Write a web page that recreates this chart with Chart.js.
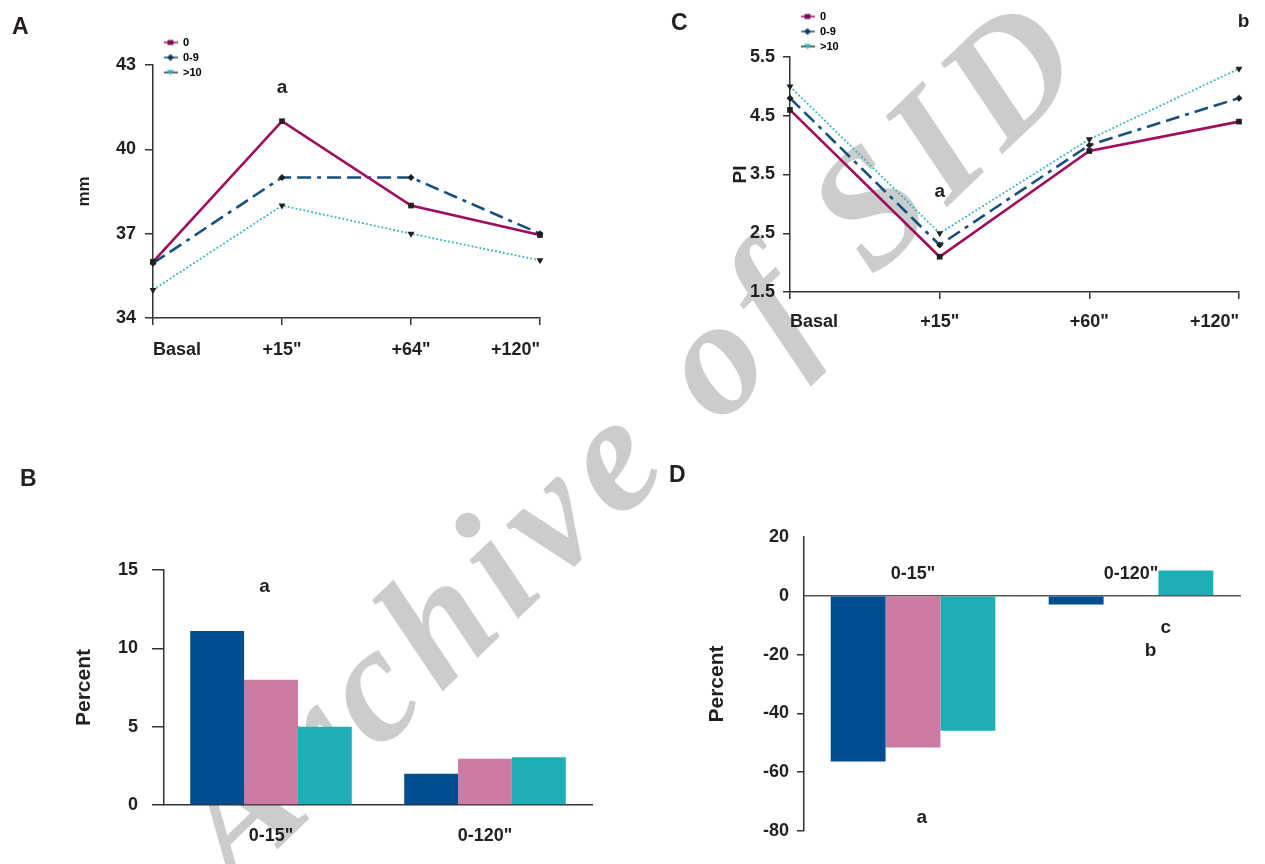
<!DOCTYPE html>
<html>
<head>
<meta charset="utf-8">
<script src="https://cdn.jsdelivr.net/npm/chart.js@4.4.1/dist/chart.umd.min.js"></script>
<style>
  html, body { margin: 0; padding: 0; background: #fff; }
  #lienzo { position: relative; width: 1265px; height: 864px; overflow: hidden; }
  #lienzo canvas { position: absolute; z-index: 2; }
  .letra { position: absolute; z-index: 3; font: bold 23px "Liberation Sans", Arial, sans-serif; line-height: 1; color: #231f20; }
  #marca {
    position: absolute; z-index: 1; left: 140px; top: 790px;
    font: italic bold 165px "Liberation Serif", "DejaVu Serif", serif; line-height: 1;
    letter-spacing: 12px;
    color: #cbcccd; white-space: nowrap;
    transform: rotate(-43.8deg); transform-origin: 0 0;
  }
</style>
</head>
<body>
<div id="lienzo">
  <div id="marca">Archive of SID</div>
  <div class="letra" style="left:12px;top:15px">A</div>
  <div class="letra" style="left:20px;top:467px">B</div>
  <div class="letra" style="left:671px;top:11px">C</div>
  <div class="letra" style="left:669px;top:463px">D</div>
  <canvas id="graficaA" width="600" height="390" style="left:0;top:0"></canvas>
  <canvas id="graficaC" width="625" height="390" style="left:640px;top:0"></canvas>
  <canvas id="graficaB" width="632" height="424" style="left:0;top:440px"></canvas>
  <canvas id="graficaD" width="633" height="424" style="left:632px;top:440px"></canvas>
</div>
<script>
// ----------------------------------------------------------
// DATOS
// ----------------------------------------------------------
const grupos = ['0', '0-9', '>10'];

// Panel A: mm
const tiemposA = ['Basal', '+15"', '+64"', '+120"'];
const mmGrupo0  = [36.0, 41.0, 38.0, 36.95];
const mmGrupo09 = [35.95, 39.0, 39.0, 37.0];
const mmGrupo10 = [35.0, 38.0, 37.0, 36.05];
const ticksA = [34, 37, 40, 43];
const letrasA = [{ texto: 'a', x: 1, y: 42.2 }];

// Panel C: PI
const tiemposC = ['Basal', '+15"', '+60"', '+120"'];
const piGrupo0  = [4.6, 2.1, 3.9, 4.4];
const piGrupo09 = [4.8, 2.3, 4.0, 4.8];
const piGrupo10 = [5.0, 2.5, 4.1, 5.3];
const ticksC = [1.5, 2.5, 3.5, 4.5, 5.5];
const letrasC = [{ texto: 'a', x: 1, y: 3.2 }, { texto: 'b', x: 3.03, y: 6.1 }];

// Panel B: Percent
const intervalosB = ['0-15"', '0-120"'];
const pctB0  = [11.1, 2.0];
const pctB09 = [8.0, 2.95];
const pctB10 = [5.0, 3.05];
const ticksB = [0, 5, 10, 15];
const letrasB = [{ texto: 'a', x: -0.03, y: 13.9 }];

// Panel D: Percent (cambio)
const intervalosD = ['0-15"', '0-120"'];
const pctD0  = [-56.4, -3.0];
const pctD09 = [-51.6, 0];
const pctD10 = [-45.9, 8.6];
const ticksD = [-80, -60, -40, -20, 0, 20];
const letrasD = [
  { texto: 'a', x: 0.04, y: -75.6 },
  { texto: 'b', x: 1.09, y: -18.7 },
  { texto: 'c', x: 1.16, y: -10.9 }
];

// ----------------------------------------------------------
// ESTILO
// ----------------------------------------------------------
const colorMagenta = '#a00a5f';
const colorMarino  = '#14507e';
const colorCian    = '#2cb4c1';
const colorMarca   = '#231f20';
const coloresBarra = ['#004d92', '#cd7aa4', '#1eaeb6'];
const tinta = '#231f20';
const ejes  = '#333333';
const fuente = '"Liberation Sans", Arial, sans-serif';

Chart.defaults.font.family = fuente;
Chart.defaults.font.weight = 'bold';
Chart.defaults.color = tinta;

// icono pequeño de leyenda: trazo + marcador
function icono(colorLinea, estilo, colorPunto) {
  const c = document.createElement('canvas');
  c.width = 14; c.height = 8;
  const g = c.getContext('2d');
  g.strokeStyle = colorLinea; g.lineWidth = 1.5;
  g.beginPath(); g.moveTo(0, 4); g.lineTo(14, 4); g.stroke();
  g.fillStyle = colorPunto;
  g.beginPath();
  if (estilo === 'rect') {
    g.rect(4, 1.5, 6, 5);
  } else if (estilo === 'rectRot') {
    g.moveTo(7, 0.5); g.lineTo(10.5, 4); g.lineTo(7, 7.5); g.lineTo(3.5, 4);
  } else {
    g.moveTo(3.5, 1.5); g.lineTo(10.5, 1.5); g.lineTo(7, 7);
  }
  g.closePath(); g.fill();
  return c;
}
const iconos = [
  icono(colorMagenta, 'rect', '#7d1153'),
  icono(colorMarino, 'rectRot', '#123a5c'),
  icono('#333', 'triangle', colorCian)
];

// coloca la leyenda en un punto fijo del lienzo
const colocarLeyenda = {
  id: 'colocarLeyenda',
  afterLayout(chart, args, opts) {
    const ley = chart.legend;
    if (!ley || opts.x === undefined) return;
    ley.left = opts.x; ley.top = opts.y;
    ley.right = opts.x + ley.width; ley.bottom = opts.y + 200;
  }
};

// letras de significación (a, b, c) en coordenadas de datos
const letras = {
  id: 'letras',
  afterDraw(chart, args, opts) {
    const { ctx, scales: { x, y } } = chart;
    ctx.save();
    ctx.font = 'bold 19px ' + fuente;
    ctx.fillStyle = tinta;
    ctx.textAlign = 'center';
    ctx.textBaseline = 'middle';
    (opts.items || []).forEach(it => {
      ctx.fillText(it.texto, x.getPixelForValue(it.x), y.getPixelForValue(it.y));
    });
    ctx.restore();
  }
};

function ticksFijos(lista) {
  return scale => { scale.ticks = lista.map(v => ({ value: v })); };
}

function seriesLinea(d0, d09, d10) {
  return [
    { label: grupos[0], data: d0, borderColor: colorMagenta, borderWidth: 2.6,
      pointStyle: 'rect', pointRadius: 4, pointBackgroundColor: colorMarca, pointBorderWidth: 0, clip: false },
    { label: grupos[1], data: d09, borderColor: colorMarino, borderWidth: 2.6,
      borderDash: [14, 6, 14, 6, 4, 6],
      pointStyle: 'rectRot', pointRadius: 3.5, pointBackgroundColor: colorMarca, pointBorderWidth: 0, clip: false },
    { label: grupos[2], data: d10, borderColor: colorCian, borderWidth: 1.8,
      borderDash: [1.8, 2.2],
      pointStyle: 'triangle', rotation: 180, pointRadius: 4, pointBackgroundColor: colorMarca, pointBorderWidth: 0, clip: false }
  ];
}

function leyenda() {
  return {
    display: true,
    position: 'chartArea',
    align: 'start',
    labels: {
      usePointStyle: true,
      pointStyleWidth: 14,
      padding: 4,
      color: tinta,
      font: { size: 11, weight: 'bold' },
      generateLabels: chart => chart.data.datasets.map((ds, i) => ({
        text: ds.label, pointStyle: iconos[i], fillStyle: 'transparent',
        strokeStyle: 'transparent', lineWidth: 0, hidden: false, datasetIndex: i
      }))
    }
  };
}

function opcionesLinea(cfg) {
  return {
    responsive: false,
    animation: false,
    layout: { padding: cfg.padding },
    plugins: {
      legend: leyenda(),
      tooltip: { enabled: false },
      colocarLeyenda: cfg.leyenda,
      letras: { items: cfg.letras }
    },
    scales: {
      x: {
        offset: false,
        border: { display: true, color: ejes, width: 1.5 },
        grid: { display: true, drawOnChartArea: false, drawTicks: true, tickLength: 7, color: ejes, lineWidth: 1.5 },
        ticks: { align: 'inner', maxRotation: 0, autoSkip: false, padding: cfg.padX, font: { size: 18 } },
        afterFit: s => { s.height = 45; }
      },
      y: {
        min: cfg.min, max: cfg.max,
        afterBuildTicks: ticksFijos(cfg.ticks),
        border: { display: true, color: ejes, width: 1.5 },
        grid: { display: true, drawOnChartArea: false, tickLength: cfg.tickY, color: ejes, lineWidth: 1.5 },
        ticks: { padding: cfg.padY, font: { size: 18 } },
        title: { display: true, text: cfg.titulo, font: { size: cfg.tamTitulo }, padding: 4 },
        afterFit: s => { s.width = cfg.anchoY; }
      }
    }
  };
}

// ----------------------------------------------------------
// GRÁFICA A: mm por tiempo (líneas)
// ----------------------------------------------------------
new Chart(document.getElementById('graficaA'), {
  type: 'line',
  data: { labels: tiemposA, datasets: seriesLinea(mmGrupo0, mmGrupo09, mmGrupo10) },
  options: opcionesLinea({
    padding: { left: 70, top: 65, right: 60, bottom: 27 },
    anchoY: 83, min: 34, max: 43, ticks: ticksA, tickY: 8, padY: 9, padX: 14,
    titulo: 'mm', tamTitulo: 17, letras: letrasA,
    leyenda: { x: 159.5, y: 33 }
  }),
  plugins: [colocarLeyenda, letras]
});

// ----------------------------------------------------------
// GRÁFICA C: PI por tiempo (líneas)
// ----------------------------------------------------------
new Chart(document.getElementById('graficaC'), {
  type: 'line',
  data: { labels: tiemposC, datasets: seriesLinea(piGrupo0, piGrupo09, piGrupo10) },
  options: opcionesLinea({
    padding: { left: 85, top: 57, right: 26, bottom: 53 },
    anchoY: 65, min: 1.5, max: 5.5, ticks: ticksC, tickY: 7, padY: 8, padX: 12,
    titulo: 'PI', tamTitulo: 19, letras: letrasC,
    leyenda: { x: 156.5, y: 7 }
  }),
  plugins: [colocarLeyenda, letras]
});

// ----------------------------------------------------------
// GRÁFICAS B y D: barras por intervalo
// ----------------------------------------------------------
function seriesBarra(d0, d09, d10) {
  return [d0, d09, d10].map((d, i) => ({
    label: grupos[i], data: d, backgroundColor: coloresBarra[i],
    borderWidth: 0, barPercentage: 1, categoryPercentage: 0.755
  }));
}

new Chart(document.getElementById('graficaB'), {
  type: 'bar',
  data: { labels: intervalosB, datasets: seriesBarra(pctB0, pctB09, pctB10) },
  options: {
    responsive: false,
    animation: false,
    layout: { padding: { left: 68, top: 130, right: 40, bottom: 19 } },
    plugins: { legend: { display: false }, tooltip: { enabled: false }, letras: { items: letrasB } },
    scales: {
      x: {
        border: { display: true, color: ejes, width: 1.5 },
        grid: { display: false },
        ticks: { padding: 12, font: { size: 18 } },
        afterFit: s => { s.height = 40; }
      },
      y: {
        min: 0, max: 15,
        afterBuildTicks: ticksFijos(ticksB),
        border: { display: true, color: ejes, width: 1.5 },
        grid: { display: true, drawOnChartArea: false, tickLength: 12, color: ejes, lineWidth: 1.5 },
        ticks: { padding: 14, font: { size: 18 } },
        title: { display: true, text: 'Percent', font: { size: 21 }, padding: 4 },
        afterFit: s => { s.width = 96; }
      }
    }
  },
  plugins: [letras]
});

new Chart(document.getElementById('graficaD'), {
  type: 'bar',
  data: { labels: intervalosD, datasets: seriesBarra(pctD0, pctD09, pctD10) },
  options: {
    responsive: false,
    animation: false,
    layout: { padding: { left: 69, top: 97, right: 25, bottom: 33 } },
    plugins: { legend: { display: false }, tooltip: { enabled: false }, letras: { items: letrasD } },
    scales: {
      x: {
        position: { y: 0 },
        border: { display: true, color: '#555', width: 1.5 },
        grid: { display: true, drawOnChartArea: false, drawTicks: false },
        ticks: { padding: -33, font: { size: 18 } }
      },
      y: {
        min: -80, max: 20,
        afterBuildTicks: ticksFijos(ticksD),
        border: { display: true, color: ejes, width: 1.5 },
        grid: {
          display: true, drawOnChartArea: false, tickLength: 7, lineWidth: 1.5,
          tickColor: c => (c.tick && c.tick.value >= 0 ? 'rgba(0,0,0,0)' : ejes)
        },
        ticks: { padding: 8, font: { size: 18 } },
        title: { display: true, text: 'Percent', font: { size: 21 }, padding: 4 },
        afterFit: s => { s.width = 103; }
      }
    }
  },
  plugins: [letras]
});
</script>
</body>
</html>
